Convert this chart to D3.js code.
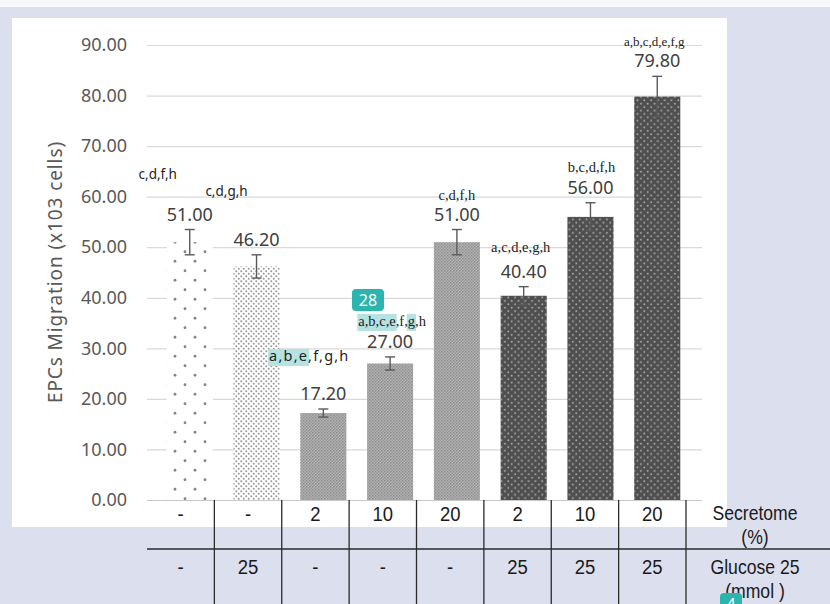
<!DOCTYPE html>
<html><head><meta charset="utf-8">
<script src="https://cdn.jsdelivr.net/npm/d3@7"></script>
<style>body{margin:0;background:#fff}svg{display:block}</style>
</head><body>
<svg id="c" width="830" height="604"></svg>
<script>
// ---- data ----
const categories = ["G1","G2","G3","G4","G5","G6","G7","G8"];
const values = [51.00, 46.20, 17.20, 27.00, 51.00, 40.40, 56.00, 79.80];
const errors = [2.5, 2.3, 0.8, 1.3, 2.5, 1.8, 2.8, 4.0];
const letters = ["c,d,f,h","c,d,g,h","a,b,e,f,g,h","a,b,c,e,f,g,h","c,d,f,h","a,c,d,e,g,h","b,c,d,f,h","a,b,c,d,e,f,g"];
const secretome = ["-","-","2","10","20","2","10","20"];
const glucose = ["-","25","-","-","-","25","25","25"];
const yTicks = [0,10,20,30,40,50,60,70,80,90];
const patterns = ["p1","p2","p3","p3","p3","p4","p4","p4"];
// letter placement (relative to value label) and font
const letterLayout = [
  {dx:-32, dy:-42, serif:false, fs:13.5, ls:0},
  {dx:-30, dy:-50, serif:false, fs:13.5, ls:0},
  {dx:-14, dy:-39, serif:false, fs:14.5, ls:1.2},
  {dx:2, dy:-22, serif:true, fs:14.5, ls:0},
  {dx:0, dy:-21, serif:true, fs:14.5, ls:0},
  {dx:-3, dy:-26, serif:true, fs:14.5, ls:0},
  {dx:1, dy:-22, serif:true, fs:14.5, ls:0},
  {dx:-3, dy:-21, serif:true, fs:13, ls:0}
];

const svg = d3.select("#c");
const lav = "#dcdfee";
svg.append("rect").attr("width",830).attr("height",604).attr("fill",lav);
svg.append("rect").attr("width",830).attr("height",7).attr("fill","#f7f7fa");
svg.append("rect").attr("x",12).attr("y",18).attr("width",715).attr("height",509).attr("fill","#fff");

// patterns
const defs = svg.append("defs");
function pat(id,w,h,bg,dots,r,dc){
  const p = defs.append("pattern").attr("id",id).attr("patternUnits","userSpaceOnUse").attr("width",w).attr("height",h);
  p.append("rect").attr("width",w).attr("height",h).attr("fill",bg);
  dots.forEach(d=>p.append("circle").attr("cx",d[0]).attr("cy",d[1]).attr("r",r).attr("fill",dc));
}
pat("p1",20,19,"#fff",[[5,4.75],[15,14.25]],1.4,"#858585");
pat("p2",5,5,"#fff",[[1.25,1.25],[3.75,3.75]],1.0,"#999");
{
  const p = defs.append("pattern").attr("id","p3").attr("patternUnits","userSpaceOnUse").attr("width",3).attr("height",3);
  p.append("rect").attr("width",3).attr("height",3).attr("fill","#b4b4b4");
  p.append("rect").attr("width",1.5).attr("height",1.5).attr("fill","#8c8c8c");
  p.append("rect").attr("x",1.5).attr("y",1.5).attr("width",1.5).attr("height",1.5).attr("fill","#979797");
}
pat("p4",6.8,6.8,"#4f4f4f",[[1.7,1.7],[5.1,5.1]],1.0,"#a8a8a8");

// scales
const y = d3.scaleLinear().domain([0,90]).range([500,45]);
const x = d3.scaleBand().domain(categories).range([146,701]).padding(0.31);
const xt = d3.scaleBand().domain(categories).range([147,686]);

// grid
const font = "'Noto Sans', 'Open Sans', sans-serif";
const yAxis = d3.axisLeft(y).tickValues(yTicks).tickFormat(d3.format(".2f")).tickSize(-(702-147)).tickPadding(20);
const gy = svg.append("g").attr("transform","translate(147,0)").call(yAxis);
gy.select(".domain").remove();
gy.selectAll(".tick line").attr("stroke","#d9d9d9").attr("stroke-width",1.2);
gy.selectAll(".tick text").attr("font-family",font).attr("font-size",18).attr("fill","#595959");
gy.selectAll(".tick").filter(d=>d===0).select("line").attr("stroke","#c8c8c8");

svg.append("text").attr("transform","translate(62,272) rotate(-90)").attr("text-anchor","middle")
  .attr("font-family",font).attr("font-size",19).attr("letter-spacing",0.9).attr("fill","#595959").text("EPCs Migration (x103 cells)");

// bars
svg.append("g").selectAll("rect").data(categories).join("rect")
  .attr("x",d=>x(d)).attr("width",x.bandwidth())
  .attr("y",(d,i)=>y(values[i])).attr("height",(d,i)=>y(0)-y(values[i]))
  .attr("fill",(d,i)=>`url(#${patterns[i]})`);

// error bars
const eg = svg.append("g").attr("stroke","#5a5a5a").attr("stroke-width",1.4);
categories.forEach((c,i)=>{
  const cx = x(c)+x.bandwidth()/2;
  const t = y(values[i]+errors[i]), b = y(values[i]-errors[i]);
  eg.append("line").attr("x1",cx).attr("x2",cx).attr("y1",t).attr("y2",b);
  eg.append("line").attr("x1",cx-5).attr("x2",cx+5).attr("y1",t).attr("y2",t);
  eg.append("line").attr("x1",cx-5).attr("x2",cx+5).attr("y1",b).attr("y2",b);
});

// value labels & letters
categories.forEach((c,i)=>{
  const cx = x(c)+x.bandwidth()/2;
  const ly = y(values[i]+errors[i]) - 9;
  svg.append("text").attr("x",cx).attr("y",ly).attr("text-anchor","middle")
    .attr("font-family",font).attr("font-size",18).attr("fill","#404040").text(values[i].toFixed(2));
  const L = letterLayout[i];
  svg.append("text").attr("class","lt"+i).attr("x",cx+L.dx).attr("y",ly+L.dy).attr("text-anchor","middle")
    .attr("font-family",L.serif?"'Liberation Serif', serif":"'Noto Sans', sans-serif")
    .attr("font-size",L.fs).attr("letter-spacing",L.ls).attr("fill","#222").text(letters[i]);
});

// highlights (behind letters)
function highlight(i, parts){
  const t = svg.select(".lt"+i); const node = t.node();
  parts.forEach(([s,e])=>{
    const a = node.getStartPositionOfChar(s), b = node.getEndPositionOfChar(e);
    svg.insert("rect",".lt"+i).attr("x",a.x-1).attr("y",a.y-12).attr("width",b.x-a.x+2).attr("height",17).attr("fill","#b5e3e3");
  });
}
highlight(2,[[0,4]]);
highlight(3,[[0,6],[10,10]]);

// table
const tf = "'Liberation Sans', Arial, sans-serif";
const tg = svg.append("g").attr("font-weight",400);
function ttext(t,cx,yy,fs){
  tg.append("text").attr("transform",`translate(${cx},${yy}) scale(0.88,1)`).attr("text-anchor","middle")
    .attr("font-family",tf).attr("font-size",fs).attr("fill","#1a1a1a").text(t);
}
categories.forEach((c,i)=>{
  const cx = xt(c)+xt.bandwidth()/2;
  ttext(secretome[i],cx,521,21);
  ttext(glucose[i],cx,574,21);
  tg.append("line").attr("x1",xt(c)+xt.bandwidth()).attr("x2",xt(c)+xt.bandwidth()).attr("y1",500).attr("y2",604).attr("stroke","#2a2a2a").attr("stroke-width",1.3);
});
tg.append("line").attr("x1",147).attr("x2",830).attr("y1",549).attr("y2",549).attr("stroke","#2a2a2a").attr("stroke-width",1.3);
[["Secretome",520],["(%)",544],["Glucose 25",574],["(mmol )",598]].forEach(([t,yy])=>ttext(t,755,yy,20));

// teal badges
function badge(bx,by,w,h,t){
  svg.append("rect").attr("x",bx).attr("y",by).attr("width",w).attr("height",h).attr("rx",4).attr("fill","#2bb5ae");
  svg.append("text").attr("x",bx+w/2).attr("y",by+h/2+6).attr("text-anchor","middle").attr("font-family",font).attr("font-size",16).attr("fill","#fff").text(t);
}
badge(352,289,32,22,"28");
badge(720,593,22,22,"4");
</script>
</body></html>
